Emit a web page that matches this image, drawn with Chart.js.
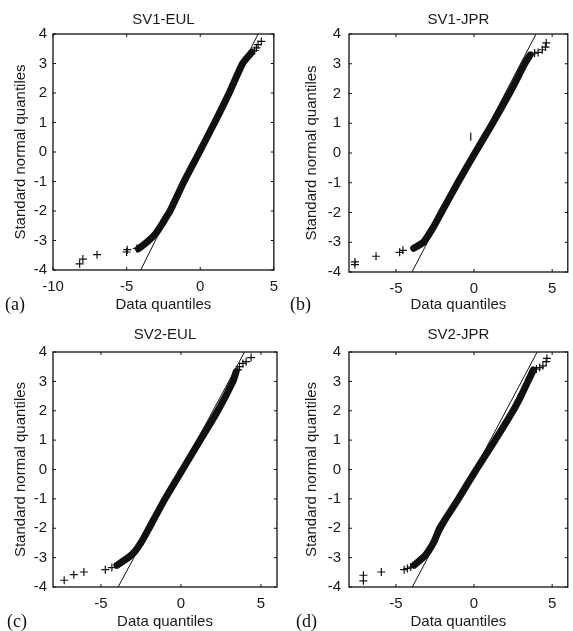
<!DOCTYPE html>
<html>
<head>
<meta charset="utf-8">
<script src="https://cdn.jsdelivr.net/npm/chart.js"></script>
<style>
  body { margin: 0; background: #fff; overflow: hidden; }
  #wrap { position: relative; width: 573px; height: 631px; }
  canvas { position: absolute; }
  .lbl { position: absolute; font-family: 'Liberation Serif', 'DejaVu Serif', serif; font-size: 18px; line-height: 20px; color: #111; }
</style>
</head>
<body>
<div id="wrap">
  <canvas id="cA" width="286" height="316" style="left:0;top:0"></canvas>
  <canvas id="cB" width="287" height="316" style="left:286px;top:0"></canvas>
  <canvas id="cC" width="286" height="323" style="left:0;top:310px"></canvas>
  <canvas id="cD" width="287" height="323" style="left:286px;top:310px"></canvas>
  <div class="lbl" style="left:5px;top:294px">(a)</div>
  <div class="lbl" style="left:290px;top:294px">(b)</div>
  <div class="lbl" style="left:7px;top:611px">(c)</div>
  <div class="lbl" style="left:296px;top:611px">(d)</div>
</div>
<script>
// y ticks are the same everywhere
var yTicks = [-4, -3, -2, -1, 0, 1, 2, 3, 4];
var xTicksA = [-10, -5, 0, 5];
var xTicksB = [-5, 0, 5];

// SV1-EUL
var sv1eulBandX = [-4.2, -3.6, -3.0, -2.6, -2.3, -2.05, -1.1, -0.05, 0.98, 1.97, 2.88, 3.5];
var sv1eulBandY = [-3.28, -3.05, -2.75, -2.45, -2.2, -2.0, -1.0, 0, 1.0, 2.0, 3.0, 3.38];
var sv1eulTailX = [-8.19, -7.97, -7.01, -5.0, -4.96, -4.3, 3.7, 3.82, 3.93, 4.15];
var sv1eulTailY = [-3.79, -3.63, -3.48, -3.39, -3.31, -3.27, 3.44, 3.53, 3.64, 3.75];
var sv1eulRefX = [-4.04, 3.93];
var sv1eulRefY = [-4, 4];

// SV1-JPR
var sv1jprBandX = [-3.86, -3.24, -2.61, -2.09, -1.04, 0.06, 1.19, 2.26, 2.76, 3.24, 3.6];
var sv1jprBandY = [-3.2, -3.0, -2.5, -2.0, -1.0, 0, 1.0, 2.0, 2.5, 3.0, 3.3];
var sv1jprTailX = [-7.62, -7.62, -6.27, -4.76, -4.55, 3.88, 4.1, 4.37, 4.57, 4.62];
var sv1jprTailY = [-3.66, -3.75, -3.47, -3.34, -3.27, 3.36, 3.38, 3.47, 3.56, 3.7];
var sv1jprRefX = [-3.97, 3.97];
var sv1jprRefY = [-4, 4];
var sv1jprOddX = [-0.21];
var sv1jprOddY = [0.55];

// SV2-EUL
var sv2eulBandX = [-4.0, -3.3, -2.9, -2.4, -2.0, -1.0, 0.1, 1.2, 2.3, 3.25, 3.45];
var sv2eulBandY = [-3.26, -3.0, -2.8, -2.4, -2.0, -1.0, 0, 1.0, 2.0, 3.0, 3.33];
var sv2eulTailX = [-7.3, -6.7, -6.07, -4.73, -4.32, 3.56, 3.66, 3.87, 4.07, 4.38];
var sv2eulTailY = [-3.77, -3.58, -3.49, -3.41, -3.34, 3.39, 3.5, 3.61, 3.67, 3.81];
var sv2eulRefX = [-3.93, 3.97];
var sv2eulRefY = [-4, 4];

// SV2-JPR
var sv2jprBandX = [-3.84, -3.11, -2.55, -2.2, -1.0, 0.15, 1.35, 2.5, 3.0, 3.45, 3.79];
var sv2jprBandY = [-3.26, -2.92, -2.45, -2.0, -1.0, 0, 1.0, 2.0, 2.5, 3.0, 3.39];
var sv2jprTailX = [-7.08, -7.08, -5.93, -4.47, -4.26, -4.05, 3.99, 4.2, 4.41, 4.62, 4.66];
var sv2jprTailY = [-3.6, -3.79, -3.49, -3.41, -3.37, -3.32, 3.42, 3.47, 3.53, 3.67, 3.78];
var sv2jprRefX = [-3.95, 4.04];
var sv2jprRefY = [-4, 4];

var FONT = "'Liberation Sans', Arial, sans-serif";
var INK = '#1a1a1a';

function pts(xs, ys) {
    return xs.map(function(x, i) { return {x: x, y: ys[i]}; });
}

// box round the plot plus small inward ticks on all four sides
var framePlugin = {
    id: 'frame',
    afterDatasetsDraw: function(chart) {
        var ctx = chart.ctx, a = chart.chartArea;
        var xs = chart.scales.x, ys = chart.scales.y;
        ctx.save();
        ctx.strokeStyle = '#111';
        ctx.lineWidth = 1.3;
        ctx.strokeRect(a.left, a.top, a.right - a.left, a.bottom - a.top);
        ctx.lineWidth = 1;
        ctx.beginPath();
        xs.ticks.forEach(function(t) {
            var px = xs.getPixelForValue(t.value);
            ctx.moveTo(px, a.bottom); ctx.lineTo(px, a.bottom - 3);
            ctx.moveTo(px, a.top); ctx.lineTo(px, a.top + 3);
        });
        ys.ticks.forEach(function(t) {
            var py = ys.getPixelForValue(t.value);
            ctx.moveTo(a.left, py); ctx.lineTo(a.left + 3, py);
            ctx.moveTo(a.right, py); ctx.lineTo(a.right - 3, py);
        });
        ctx.stroke();
        ctx.restore();
    }
};

function makePanel(id, p) {
    var datasets = [
        {
            data: pts(p.refX, p.refY), showLine: true, borderColor: '#111',
            borderWidth: 1, pointRadius: 0, xAxisID: 'x', yAxisID: 'y'
        },
        {
            data: pts(p.bandX, p.bandY), showLine: true, borderColor: '#111',
            borderWidth: 7, borderJoinStyle: 'round', borderCapStyle: 'round',
            tension: 0.2, pointRadius: 0, xAxisID: 'x', yAxisID: 'y'
        },
        {
            data: pts(p.tailX, p.tailY), showLine: false, pointStyle: 'cross',
            pointRadius: 4, borderColor: '#111', borderWidth: 1.2,
            xAxisID: 'x', yAxisID: 'y'
        }
    ];
    if (p.oddX) {
        datasets.push({
            data: pts(p.oddX, p.oddY), showLine: false, pointStyle: 'line',
            rotation: 90, pointRadius: 4, borderColor: '#111', borderWidth: 1.2,
            xAxisID: 'x', yAxisID: 'y'
        });
    }
    var xTicks = p.xTicks;
    new Chart(document.getElementById(id), {
        type: 'scatter',
        data: { datasets: datasets },
        options: {
            responsive: false,
            animation: false,
            devicePixelRatio: 1,
            layout: { padding: { left: 0, right: p.padRight, top: 0, bottom: 0 } },
            plugins: { legend: { display: false }, tooltip: { enabled: false } },
            scales: {
                x: {
                    type: 'linear', position: 'bottom', min: p.xMin, max: p.xMax,
                    afterBuildTicks: function(s) { s.ticks = xTicks.map(function(v) { return {value: v}; }); },
                    afterFit: function(s) { s.height = p.xH; },
                    grid: { display: false, drawTicks: false },
                    border: { display: false },
                    ticks: { color: INK, font: { family: FONT, size: 15 }, padding: 8, maxRotation: 0 },
                    title: { display: true, text: 'Data quantiles', color: INK,
                             font: { family: FONT, size: 15 }, padding: { top: 0, bottom: 2 } }
                },
                xTop: {
                    type: 'linear', position: 'top', min: p.xMin, max: p.xMax,
                    afterFit: function(s) { s.height = p.top; },
                    grid: { display: false, drawTicks: false },
                    border: { display: false },
                    ticks: { display: false },
                    title: { display: true, text: p.title, color: INK,
                             font: { family: FONT, size: 15 }, padding: { top: p.titleTop, bottom: 0 } }
                },
                y: {
                    type: 'linear', position: 'left', min: -4, max: 4,
                    afterBuildTicks: function(s) { s.ticks = yTicks.map(function(v) { return {value: v}; }); },
                    afterFit: function(s) { s.width = p.left; },
                    grid: { display: false, drawTicks: false },
                    border: { display: false },
                    ticks: { color: INK, font: { family: FONT, size: 15 }, padding: p.yPad },
                    title: { display: true, text: 'Standard normal quantiles', color: INK,
                             font: { family: FONT, size: 15 }, padding: { top: p.yTitleTop, bottom: 0 } }
                }
            }
        },
        plugins: [framePlugin]
    });
}

makePanel('cA', {
    title: 'SV1-EUL', xTicks: xTicksA, xMin: -10, xMax: 5,
    bandX: sv1eulBandX, bandY: sv1eulBandY, tailX: sv1eulTailX, tailY: sv1eulTailY,
    refX: sv1eulRefX, refY: sv1eulRefY,
    left: 53, padRight: 9, top: 34, titleTop: 11, xH: 46, yPad: 6, yTitleTop: 12
});
makePanel('cB', {
    title: 'SV1-JPR', xTicks: xTicksB, xMin: -8, xMax: 6,
    bandX: sv1jprBandX, bandY: sv1jprBandY, tailX: sv1jprTailX, tailY: sv1jprTailY,
    refX: sv1jprRefX, refY: sv1jprRefY, oddX: sv1jprOddX, oddY: sv1jprOddY,
    left: 63, padRight: 1, top: 34, titleTop: 11, xH: 44, yPad: 8, yTitleTop: 17
});
makePanel('cC', {
    title: 'SV2-EUL', xTicks: xTicksB, xMin: -8, xMax: 6,
    bandX: sv2eulBandX, bandY: sv2eulBandY, tailX: sv2eulTailX, tailY: sv2eulTailY,
    refX: sv2eulRefX, refY: sv2eulRefY,
    left: 53, padRight: 9, top: 42, titleTop: 16, xH: 46, yPad: 6, yTitleTop: 12
});
makePanel('cD', {
    title: 'SV2-JPR', xTicks: xTicksB, xMin: -8, xMax: 6,
    bandX: sv2jprBandX, bandY: sv2jprBandY, tailX: sv2jprTailX, tailY: sv2jprTailY,
    refX: sv2jprRefX, refY: sv2jprRefY,
    left: 63, padRight: 1, top: 42, titleTop: 16, xH: 46, yPad: 8, yTitleTop: 17
});
</script>
</body>
</html>
